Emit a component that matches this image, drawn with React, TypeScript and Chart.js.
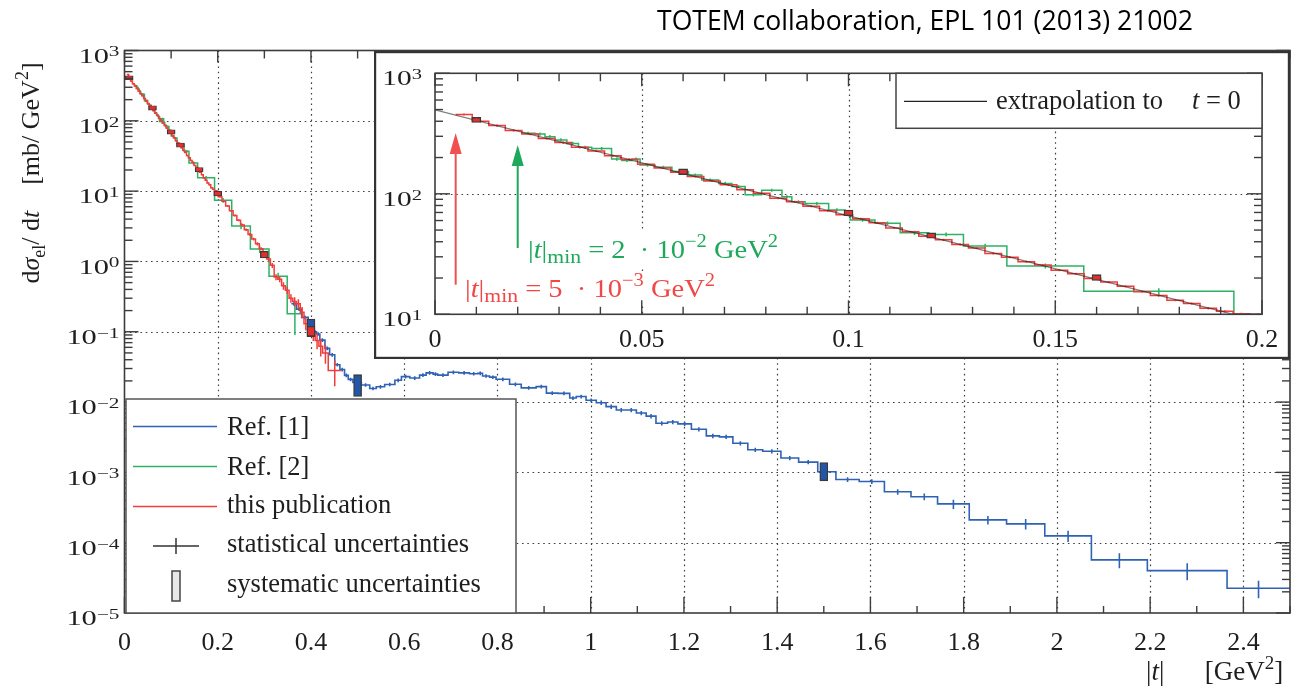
import React, { useEffect, useRef } from "react";
import { Chart, registerables } from "chart.js";

Chart.register(...registerables);

const SERIF = '"Liberation Serif", "Times New Roman", serif';
const SANS = '"Open Sans", "Noto Sans", sans-serif';
const W = 1297;
const H = 692;
const INSET = { left: 374, top: 51, width: 916, height: 308 };

// ---------------- text ----------------
const titleText = "TOTEM collaboration, EPL 101 (2013) 21002";
const legendLabels = ["Ref. [1]", "Ref. [2]", "this publication", "statistical uncertainties", "systematic uncertainties"];
const insetLegendLabel = "extrapolation to";

// ---------------- axes ----------------
const mainXTickValues = [0, 0.2, 0.4, 0.6, 0.8, 1, 1.2, 1.4, 1.6, 1.8, 2, 2.2, 2.4];
const mainXTickLabels = ["0", "0.2", "0.4", "0.6", "0.8", "1", "1.2", "1.4", "1.6", "1.8", "2", "2.2", "2.4"];
const mainYExponents = [3, 2, 1, 0, -1, -2, -3, -4, -5];
const insetXTickValues = [0, 0.05, 0.1, 0.15, 0.2];
const insetXTickLabels = ["0", "0.05", "0.1", "0.15", "0.2"];
const insetYExponents = [3, 2, 1];

// ---------------- Ref. [1] (blue) ----------------
const blueEdges = [0.358, 0.369, 0.38, 0.394, 0.405, 0.412, 0.419, 0.43, 0.44, 0.451, 0.462, 0.472, 0.48, 0.49, 0.508, 0.526, 0.54, 0.558, 0.58, 0.594, 0.612, 0.633, 0.647, 0.662, 0.672, 0.694, 0.717, 0.74, 0.758, 0.768, 0.783, 0.797, 0.826, 0.851, 0.883, 0.905, 0.93, 0.955, 0.969, 0.99, 1.012, 1.033, 1.055, 1.076, 1.098, 1.119, 1.14, 1.165, 1.187, 1.216, 1.248, 1.276, 1.305, 1.337, 1.369, 1.408, 1.446, 1.487, 1.526, 1.576, 1.63, 1.687, 1.744, 1.812, 1.892, 1.974, 2.074, 2.194, 2.365, 2.5];
const blueValues = [0.25, 0.21, 0.16, 0.12, 0.1, 0.093, 0.076, 0.058, 0.047, 0.034, 0.029, 0.024, 0.021, 0.019, 0.0175, 0.0156, 0.0165, 0.0178, 0.0204, 0.023, 0.022, 0.0242, 0.026, 0.025, 0.0242, 0.0265, 0.026, 0.0253, 0.0257, 0.0235, 0.0226, 0.0211, 0.0179, 0.0159, 0.0166, 0.0134, 0.0133, 0.0114, 0.012, 0.0106, 0.0098, 0.0086, 0.0077, 0.0077, 0.007, 0.0063, 0.005, 0.0052, 0.0049, 0.0041, 0.0033, 0.0032, 0.0026, 0.0021, 0.002, 0.0016, 0.0014, 0.00102, 0.00079, 0.00074, 0.00053, 0.00045, 0.000356, 0.000211, 0.000185, 0.000125, 0.000057, 0.00004, 0.0000225];
const blueStat = [0.06, 0.06, 0.06, 0.06, 0.06, 0.06, 0.06, 0.06, 0.06, 0.06, 0.06, 0.06, 0.06, 0.06, 0.06, 0.06, 0.06, 0.06, 0.06, 0.06, 0.06, 0.06, 0.06, 0.06, 0.06, 0.06, 0.06, 0.06, 0.06, 0.06, 0.06, 0.06, 0.06, 0.06, 0.06, 0.06, 0.06, 0.06, 0.06, 0.06, 0.07, 0.07, 0.07, 0.07, 0.07, 0.07, 0.07, 0.07, 0.07, 0.07, 0.07, 0.07, 0.07, 0.07, 0.07, 0.07, 0.07, 0.07, 0.08, 0.08, 0.09, 0.11, 0.15, 0.14, 0.17, 0.18, 0.24, 0.27, 0.28];
const blueSystT = [0.4, 0.5, 1.5];
const blueSystLo = [0.089, 0.0125, 0.00079];
const blueSystHi = [0.145, 0.0235, 0.00132];

// ---------------- Ref. [2] (green) ----------------
const greenEdges = [0.0208, 0.0242, 0.0266, 0.029, 0.0319, 0.0347, 0.0379, 0.0427, 0.0452, 0.0476, 0.0496, 0.0532, 0.0573, 0.0613, 0.0645, 0.0686, 0.0718, 0.075, 0.079, 0.0839, 0.0863, 0.0895, 0.0952, 0.0992, 0.1004, 0.1064, 0.1125, 0.1194, 0.1278, 0.1383, 0.1569, 0.1932, 0.23, 0.27, 0.31, 0.349, 0.382];
const greenValues = [318, 313, 298, 280, 262, 243, 238, 194, 189, 194, 173, 166, 153, 143, 130, 122, 115, 98, 107, 94.6, 86, 83, 73.5, 69, 60.7, 57, 47.5, 46, 36.9, 25.2, 15.5, 7.4, 3.19, 1.5, 0.617, 0.18];
const greenStat = [0.03, 0.03, 0.03, 0.03, 0.03, 0.03, 0.03, 0.03, 0.03, 0.03, 0.03, 0.03, 0.03, 0.03, 0.03, 0.03, 0.03, 0.03, 0.03, 0.03, 0.03, 0.03, 0.03, 0.03, 0.035, 0.035, 0.04, 0.04, 0.045, 0.05, 0.06, 0.08, 0.1, 0.12, 0.12, 0.5];

// ---------------- this publication (red) ----------------
const redEdges = [0.005, 0.009, 0.013, 0.017, 0.021, 0.025, 0.029, 0.033, 0.037, 0.041, 0.045, 0.049, 0.053, 0.057, 0.061, 0.065, 0.069, 0.073, 0.077, 0.081, 0.085, 0.089, 0.093, 0.097, 0.101, 0.105, 0.109, 0.113, 0.117, 0.121, 0.125, 0.129, 0.133, 0.137, 0.141, 0.145, 0.149, 0.153, 0.157, 0.161, 0.165, 0.169, 0.173, 0.177, 0.181, 0.185, 0.189, 0.193, 0.197, 0.201, 0.209, 0.217, 0.225, 0.233, 0.241, 0.249, 0.257, 0.265, 0.273, 0.281, 0.289, 0.297, 0.305, 0.313, 0.321, 0.329, 0.337, 0.345, 0.353, 0.361, 0.369, 0.377, 0.385, 0.393, 0.401, 0.409, 0.417, 0.425, 0.437, 0.465];
const redValues = [455, 400, 368, 336, 313, 288, 266, 243, 227, 207, 193, 176, 164, 151, 139, 128, 119, 108, 101, 92, 86, 79, 72.5, 67, 62, 57.5, 52, 48.5, 44.5, 41.5, 38, 35.5, 32, 29.8, 27.3, 25.6, 23.2, 21.7, 19.8, 18.5, 17.1, 15.4, 14.3, 13.1, 12.3, 11.2, 10.6, 10.1, 9.95, 8.35, 7.16, 6.14, 5.25, 4.5, 3.85, 3.3, 2.83, 2.42, 2.08, 1.78, 1.52, 1.31, 1.08, 0.88, 0.6, 0.56, 0.45, 0.39, 0.3, 0.27, 0.25, 0.19, 0.13, 0.118, 0.095, 0.075, 0.062, 0.05, 0.028];
const redStat = [0.02, 0.02, 0.02, 0.02, 0.02, 0.02, 0.02, 0.02, 0.02, 0.02, 0.02, 0.02, 0.02, 0.02, 0.02, 0.02, 0.02, 0.02, 0.02, 0.02, 0.02, 0.02, 0.02, 0.02, 0.02, 0.02, 0.02, 0.02, 0.02, 0.02, 0.02, 0.02, 0.02, 0.02, 0.02, 0.02, 0.02, 0.02, 0.02, 0.02, 0.02, 0.02, 0.02, 0.02, 0.02, 0.02, 0.02, 0.02, 0.02, 0.03, 0.03, 0.03, 0.03, 0.035, 0.035, 0.04, 0.04, 0.045, 0.045, 0.05, 0.05, 0.06, 0.07, 0.08, 0.1, 0.1, 0.12, 0.12, 0.14, 0.15, 0.16, 0.18, 0.2, 0.2, 0.22, 0.25, 0.28, 0.3, 0.4];
const redSystT = [0.01, 0.06, 0.1, 0.12, 0.16, 0.2, 0.3, 0.4];
const redSystLo = [400, 148, 67.5, 43.8, 19.6, 8.9, 1.17, 0.09];
const redSystHi = [420, 157, 71.5, 46.2, 20.8, 9.5, 1.34, 0.115];

// ---------------- inset extras ----------------
const extrapT = [0, 0.195];
const extrapV = [497, 9.6];
const arrowT = [0.005, 0.02];
const arrowFrom = [17.6, 35.5];
const arrowTo = [320, 254];
const tminMantissa = ["5", "2"];
const tminExponent = ["\u22123", "\u22122"];

// ---------------- colours ----------------
const BLUE = "#2f62b4";
const GREEN = "#2cb264";
const RED = "#f23c3c";
const RED_BOX = "#e3302e";
const BLUE_BOX = "#2356a6";
const TXT = "#1e1e1e";
const AX = "#3c3c3c";

type Run = { t: string; f: string; dy?: number };
const F = (size: number, style = "") => `${style} ${size}px ${SERIF}`.trim();

function runsWidth(ctx: CanvasRenderingContext2D, runs: Run[]) {
  let w = 0;
  for (const r of runs) {
    ctx.font = r.f;
    w += ctx.measureText(r.t).width;
  }
  return w;
}
function drawRuns(ctx: CanvasRenderingContext2D, x: number, y: number, runs: Run[], color: string) {
  ctx.fillStyle = color;
  ctx.textBaseline = "alphabetic";
  ctx.textAlign = "left";
  for (const r of runs) {
    ctx.font = r.f;
    ctx.fillText(r.t, x, y + (r.dy || 0));
    x += ctx.measureText(r.t).width;
  }
  return x;
}
function drawPow(ctx: CanvasRenderingContext2D, xRight: number, yTick: number, exp: number, fs: number, sx: number) {
  const sup = exp < 0 ? "\u2212" + Math.abs(exp) : String(exp);
  const runs: Run[] = [
    { t: "10", f: F(fs) },
    { t: sup, f: F(fs * 0.7), dy: -fs * 0.3 },
  ];
  const w = runsWidth(ctx, runs) * sx;
  ctx.save();
  ctx.translate(xRight - w, yTick + fs * 0.58);
  ctx.scale(sx, 1);
  drawRuns(ctx, 0, 0, runs, TXT);
  ctx.restore();
}

function stepPoints(edges: number[], values: number[]) {
  const n = Math.min(values.length, edges.length - 1);
  const pts: { x: number; y: number }[] = [];
  for (let i = 0; i < n; i++) pts.push({ x: edges[i], y: values[i] });
  pts.push({ x: edges[n], y: values[n - 1] });
  return pts;
}
function errPoints(edges: number[], values: number[], rel: number[]) {
  const n = Math.min(values.length, edges.length - 1, rel.length);
  const pts: { x: number; y: number | null }[] = [];
  for (let i = 0; i < n; i++) {
    const c = (edges[i] + edges[i + 1]) / 2;
    pts.push({ x: c, y: values[i] * (1 - rel[i]) }, { x: c, y: values[i] * (1 + rel[i]) }, { x: c, y: null });
  }
  return pts;
}

function dotted(ctx: CanvasRenderingContext2D) {
  ctx.setLineDash([1.6, 3.7]);
  ctx.strokeStyle = "#404040";
  ctx.lineWidth = 1.2;
}
function line(ctx: CanvasRenderingContext2D, x1: number, y1: number, x2: number, y2: number) {
  ctx.beginPath();
  ctx.moveTo(x1, y1);
  ctx.lineTo(x2, y2);
  ctx.stroke();
}

function logMinors(e0: number, e1: number) {
  const out: number[] = [];
  for (let e = e0; e < e1; e++) for (let m = 2; m <= 9; m++) out.push(m * Math.pow(10, e));
  return out;
}

// ---------------- main chart decorations ----------------
const mainDecor = {
  id: "mainDecor",
  beforeDraw(chart: any) {
    const ctx = chart.ctx as CanvasRenderingContext2D;
    ctx.save();
    ctx.fillStyle = "#fff";
    ctx.fillRect(0, 0, chart.width, chart.height);
    ctx.restore();
  },
  beforeDatasetsDraw(chart: any) {
    const ctx = chart.ctx as CanvasRenderingContext2D;
    const { left, right, top, bottom } = chart.chartArea;
    const xs = chart.scales.x, ys = chart.scales.y;
    ctx.save();
    dotted(ctx);
    for (const v of mainXTickValues) {
      if (v <= 0) continue;
      const x = Math.round(xs.getPixelForValue(v)) + 0.5;
      line(ctx, x, top, x, bottom);
    }
    for (const e of mainYExponents) {
      if (e >= 3 || e <= -5) continue;
      const y = Math.round(ys.getPixelForValue(Math.pow(10, e))) + 0.5;
      line(ctx, left, y, right, y);
    }
    ctx.restore();
  },
  afterDatasetsDraw(chart: any) {
    const ctx = chart.ctx as CanvasRenderingContext2D;
    const { left, right, top, bottom } = chart.chartArea;
    const xs = chart.scales.x, ys = chart.scales.y;
    ctx.save();
    ctx.setLineDash([]);
    ctx.strokeStyle = AX;
    ctx.lineWidth = 1.4;
    // x ticks
    for (const v of mainXTickValues) {
      const x = xs.getPixelForValue(v);
      line(ctx, x, bottom, x, bottom - 16);
      line(ctx, x, top, x, top + 12);
      const xm = xs.getPixelForValue(v + 0.1);
      line(ctx, xm, bottom, xm, bottom - 7);
      line(ctx, xm, top, xm, top + 8);
    }
    // y ticks
    for (const e of mainYExponents) {
      const y = ys.getPixelForValue(Math.pow(10, e));
      line(ctx, left, y, left + 14, y);
      line(ctx, right, y, right - 14, y);
    }
    for (const v of logMinors(-5, 3)) {
      const y = ys.getPixelForValue(v);
      line(ctx, left, y, left + 8, y);
      line(ctx, right, y, right - 8, y);
    }
    ctx.lineWidth = 1.6;
    ctx.strokeRect(left, top, right - left, bottom - top);

    // tick labels
    ctx.fillStyle = TXT;
    ctx.font = F(26);
    ctx.textAlign = "center";
    ctx.textBaseline = "alphabetic";
    mainXTickValues.forEach((v, i) => {
      ctx.fillText(mainXTickLabels[i], xs.getPixelForValue(v), bottom + 37);
    });
    for (const e of mainYExponents) {
      drawPow(ctx, left - 5, ys.getPixelForValue(Math.pow(10, e)), e, 21, 1.45);
    }

    // y axis title (rotated)
    const yRuns: Run[] = [
      { t: "d", f: F(26) },
      { t: "\u03c3", f: F(26, "italic") },
      { t: "el", f: F(18), dy: 6 },
      { t: "/ d", f: F(26) },
      { t: "t", f: F(26, "italic") },
      { t: "    [mb/ GeV", f: F(26) },
      { t: "2", f: F(18), dy: -11 },
      { t: "]", f: F(26) },
    ];
    const yw = runsWidth(ctx, yRuns);
    ctx.save();
    ctx.translate(39, top + 122.5);
    ctx.rotate(-Math.PI / 2);
    drawRuns(ctx, -yw / 2, 0, yRuns, TXT);
    ctx.restore();

    // x axis title
    drawRuns(ctx, 1146, bottom + 67, [
      { t: "|", f: F(27) },
      { t: "t", f: F(27, "italic") },
      { t: "|", f: F(27) },
      { t: "      [GeV", f: F(27) },
      { t: "2", f: F(19), dy: -11 },
      { t: "]", f: F(27) },
    ], TXT);

    // title
    ctx.font = `22px ${SANS}`;
    const tw = ctx.measureText(titleText).width;
    const fs = 22 * 536 / tw;
    ctx.font = `${fs}px ${SANS}`;
    ctx.fillStyle = "#000";
    ctx.textAlign = "left";
    ctx.fillText(titleText, 657, 30);

    // legend
    const lx = left + 1.5, ly = bottom - 214, lw = 390, lh = 214;
    ctx.fillStyle = "#fff";
    ctx.fillRect(lx, ly, lw, lh);
    ctx.strokeStyle = "#555";
    ctx.lineWidth = 1.5;
    ctx.strokeRect(lx, ly, lw, lh);
    const rowLine = [27.5, 67.5, 107.5];
    const lineCols = [BLUE, GREEN, RED];
    rowLine.forEach((dy, i) => {
      ctx.strokeStyle = lineCols[i];
      ctx.lineWidth = 1.5;
      line(ctx, lx + 7, ly + dy, lx + 91, ly + dy);
    });
    ctx.strokeStyle = "#333";
    ctx.lineWidth = 1.5;
    line(ctx, lx + 27, ly + 147, lx + 73, ly + 147);
    line(ctx, lx + 50, ly + 139, lx + 50, ly + 155);
    ctx.fillStyle = "#e6e6e6";
    ctx.fillRect(lx + 46, ly + 172, 8, 30);
    ctx.strokeStyle = "#444";
    ctx.strokeRect(lx + 46, ly + 172, 8, 30);
    const baselines = [36, 76, 114, 153, 193];
    ctx.fillStyle = TXT;
    ctx.font = F(26.5);
    ctx.textAlign = "left";
    legendLabels.forEach((s, i) => ctx.fillText(s, lx + 101, ly + baselines[i]));
    ctx.restore();
  },
};

// ---------------- inset decorations ----------------
const insetDecor = {
  id: "insetDecor",
  beforeDraw(chart: any) {
    const ctx = chart.ctx as CanvasRenderingContext2D;
    ctx.save();
    ctx.fillStyle = "#fff";
    ctx.fillRect(0, 0, chart.width, chart.height);
    ctx.restore();
  },
  beforeDatasetsDraw(chart: any) {
    const ctx = chart.ctx as CanvasRenderingContext2D;
    const { left, right, top, bottom } = chart.chartArea;
    const xs = chart.scales.x, ys = chart.scales.y;
    ctx.save();
    dotted(ctx);
    for (const v of insetXTickValues) {
      if (v <= 0 || v >= 0.2) continue;
      const x = Math.round(xs.getPixelForValue(v)) + 0.5;
      line(ctx, x, top, x, bottom);
    }
    const y2 = Math.round(ys.getPixelForValue(100)) + 0.5;
    line(ctx, left, y2, right, y2);
    ctx.restore();

    // annotation texts with white background
    ctx.save();
    const labels = [
      { x: 91, y: 246, col: "#f04848", i: 0 },
      { x: 154, y: 207, col: "#1ea85c", i: 1 },
    ];
    for (const L of labels) {
      const runs: Run[] = [
        { t: "|", f: F(25) },
        { t: "t", f: F(25, "italic") },
        { t: "|", f: F(25) },
        { t: "min", f: F(19), dy: 5 },
        { t: " = " + tminMantissa[L.i] + "  \u00b7 10", f: F(25) },
        { t: tminExponent[L.i], f: F(18), dy: -11 },
        { t: " GeV", f: F(25) },
        { t: "2", f: F(18), dy: -11 },
      ];
      const w = runsWidth(ctx, runs) * 1.14;
      ctx.fillStyle = "#fff";
      ctx.fillRect(L.x - 2, L.y - 26, w + 4, 34);
      ctx.save();
      ctx.translate(L.x, L.y);
      ctx.scale(1.14, 1);
      drawRuns(ctx, 0, 0, runs, L.col);
      ctx.restore();
    }
    // arrows
    const acols = ["#f05050", "#1ea85c"];
    arrowT.forEach((t, i) => {
      const x = xs.getPixelForValue(t);
      const yb = ys.getPixelForValue(arrowFrom[i]);
      const yt = ys.getPixelForValue(arrowTo[i]);
      ctx.strokeStyle = acols[i];
      ctx.fillStyle = acols[i];
      ctx.lineWidth = 2;
      line(ctx, x, yb, x, yt + 18);
      ctx.beginPath();
      ctx.moveTo(x, yt);
      ctx.lineTo(x - 6, yt + 21);
      ctx.lineTo(x + 6, yt + 21);
      ctx.closePath();
      ctx.fill();
    });
    ctx.restore();
  },
  afterDatasetsDraw(chart: any) {
    const ctx = chart.ctx as CanvasRenderingContext2D;
    const { left, right, top, bottom } = chart.chartArea;
    const xs = chart.scales.x, ys = chart.scales.y;
    ctx.save();
    ctx.setLineDash([]);
    ctx.strokeStyle = AX;
    ctx.lineWidth = 1.4;
    for (let k = 0; k <= 20; k++) {
      const v = k / 100;
      const x = xs.getPixelForValue(v);
      const major = k % 5 === 0;
      line(ctx, x, bottom, x, bottom - (major ? 14 : 7.5));
      line(ctx, x, top, x, top + (major ? 13 : 8));
    }
    for (const e of insetYExponents) {
      const y = ys.getPixelForValue(Math.pow(10, e));
      line(ctx, left, y, left + 15, y);
      line(ctx, right, y, right - 15, y);
    }
    for (const v of logMinors(1, 3)) {
      const y = ys.getPixelForValue(v);
      line(ctx, left, y, left + 8, y);
      line(ctx, right, y, right - 8, y);
    }
    ctx.lineWidth = 1.6;
    ctx.strokeRect(left, top, right - left, bottom - top);

    // tick labels
    ctx.fillStyle = TXT;
    ctx.font = F(26);
    ctx.textAlign = "center";
    ctx.textBaseline = "alphabetic";
    insetXTickValues.forEach((v, i) => ctx.fillText(insetXTickLabels[i], xs.getPixelForValue(v), bottom + 33));
    for (const e of insetYExponents) drawPow(ctx, left - 13, ys.getPixelForValue(Math.pow(10, e)), e, 21, 1.4);

    // legend
    const lx = right - 366, ly = top, lw = 366, lh = 55;
    ctx.fillStyle = "#fff";
    ctx.fillRect(lx, ly, lw, lh);
    ctx.strokeStyle = "#444";
    ctx.lineWidth = 1.5;
    ctx.strokeRect(lx, ly, lw, lh);
    ctx.strokeStyle = "#222";
    ctx.lineWidth = 1.3;
    line(ctx, lx + 8, ly + 28, lx + 91, ly + 28);
    drawRuns(ctx, lx + 100, ly + 36, [{ t: insetLegendLabel, f: F(26.5) }], TXT);
    drawRuns(ctx, lx + 296, ly + 36, [
      { t: "t", f: F(26.5, "italic") },
      { t: " = 0", f: F(26.5) },
    ], TXT);

    // outer frame
    ctx.strokeStyle = "#333";
    ctx.lineWidth = 2.2;
    ctx.strokeRect(1.1, 1.1, chart.width - 2.2, chart.height - 2.2);
    ctx.restore();
  },
};

function lineDs(data: any[], color: string, order: number, stepped: boolean, width = 1.5) {
  return {
    type: "line" as const,
    data,
    borderColor: color,
    borderWidth: width,
    pointRadius: 0,
    stepped,
    spanGaps: false,
    tension: 0,
    order,
  };
}

function systDataset(includeBlue: boolean, maxT: number, thickness: number) {
  const data: any[] = [];
  const colors: string[] = [];
  if (includeBlue) {
    blueSystT.forEach((t, i) => {
      data.push({ x: t, y: [blueSystLo[i], blueSystHi[i]] });
      colors.push(BLUE_BOX);
    });
  }
  redSystT.forEach((t, i) => {
    if (t < maxT) {
      data.push({ x: t, y: [redSystLo[i], redSystHi[i]] });
      colors.push(RED_BOX);
    }
  });
  return {
    type: "bar" as const,
    data,
    backgroundColor: colors,
    borderColor: "#3a3a3a",
    borderWidth: 1.3,
    borderSkipped: false as const,
    barThickness: thickness,
    inflateAmount: 1.6,
    order: 0,
  };
}

export default function App() {
  const mainRef = useRef<HTMLCanvasElement>(null);
  const insetRef = useRef<HTMLCanvasElement>(null);

  useEffect(() => {
    const charts: Chart[] = [];
    if (mainRef.current) {
      charts.push(
        new Chart(mainRef.current, {
          type: "line",
          data: {
            datasets: [
              systDataset(true, 10, 5.5),
              lineDs(errPoints(redEdges, redValues, redStat), RED, 1, false),
              lineDs(stepPoints(redEdges, redValues), RED, 2, true),
              lineDs(errPoints(blueEdges, blueValues, blueStat), BLUE, 3, false, 1.6),
              lineDs(stepPoints(blueEdges, blueValues), BLUE, 4, true, 1.6),
              lineDs(errPoints(greenEdges, greenValues, greenStat), GREEN, 5, false),
              lineDs(stepPoints(greenEdges, greenValues), GREEN, 6, true),
            ] as any,
          },
          options: {
            responsive: false,
            animation: false,
            devicePixelRatio: 1,
            events: [],
            layout: { padding: { left: 124.5, top: 50.5, right: 7, bottom: 79 } },
            scales: {
              x: { type: "linear", min: 0, max: 2.5, display: false, offset: false, grid: { offset: false } },
              y: { type: "logarithmic", min: 1e-5, max: 1e3, display: false },
            },
            plugins: { legend: { display: false }, tooltip: { enabled: false } },
          },
          plugins: [mainDecor as any],
        })
      );
    }
    if (insetRef.current) {
      charts.push(
        new Chart(insetRef.current, {
          type: "line",
          data: {
            datasets: [
              systDataset(false, 0.19, 6.5),
              lineDs(extrapT.map((t, i) => ({ x: t, y: extrapV[i] })), "rgba(20,20,20,0.55)", 1, false, 1.3),
              lineDs(errPoints(redEdges, redValues, redStat), RED, 2, false),
              lineDs(stepPoints(redEdges, redValues), RED, 3, true),
              lineDs(errPoints(greenEdges, greenValues, greenStat), GREEN, 4, false),
              lineDs(stepPoints(greenEdges, greenValues), GREEN, 5, true),
            ] as any,
          },
          options: {
            responsive: false,
            animation: false,
            devicePixelRatio: 1,
            events: [],
            layout: { padding: { left: 61, top: 22.3, right: 28, bottom: 44.7 } },
            scales: {
              x: { type: "linear", min: 0, max: 0.2, display: false, offset: false, grid: { offset: false } },
              y: { type: "logarithmic", min: 10, max: 1000, display: false },
            },
            plugins: { legend: { display: false }, tooltip: { enabled: false } },
          },
          plugins: [insetDecor as any],
        })
      );
    }
    return () => charts.forEach((c) => c.destroy());
  }, []);

  return (
    <div style={{ position: "fixed", left: 0, top: 0, width: W, height: H, background: "#fff", overflow: "hidden" }}>
      <canvas ref={mainRef} width={W} height={H} style={{ position: "absolute", left: 0, top: 0, width: W, height: H }} />
      <canvas
        ref={insetRef}
        width={INSET.width}
        height={INSET.height}
        style={{ position: "absolute", left: INSET.left, top: INSET.top, width: INSET.width, height: INSET.height }}
      />
    </div>
  );
}
